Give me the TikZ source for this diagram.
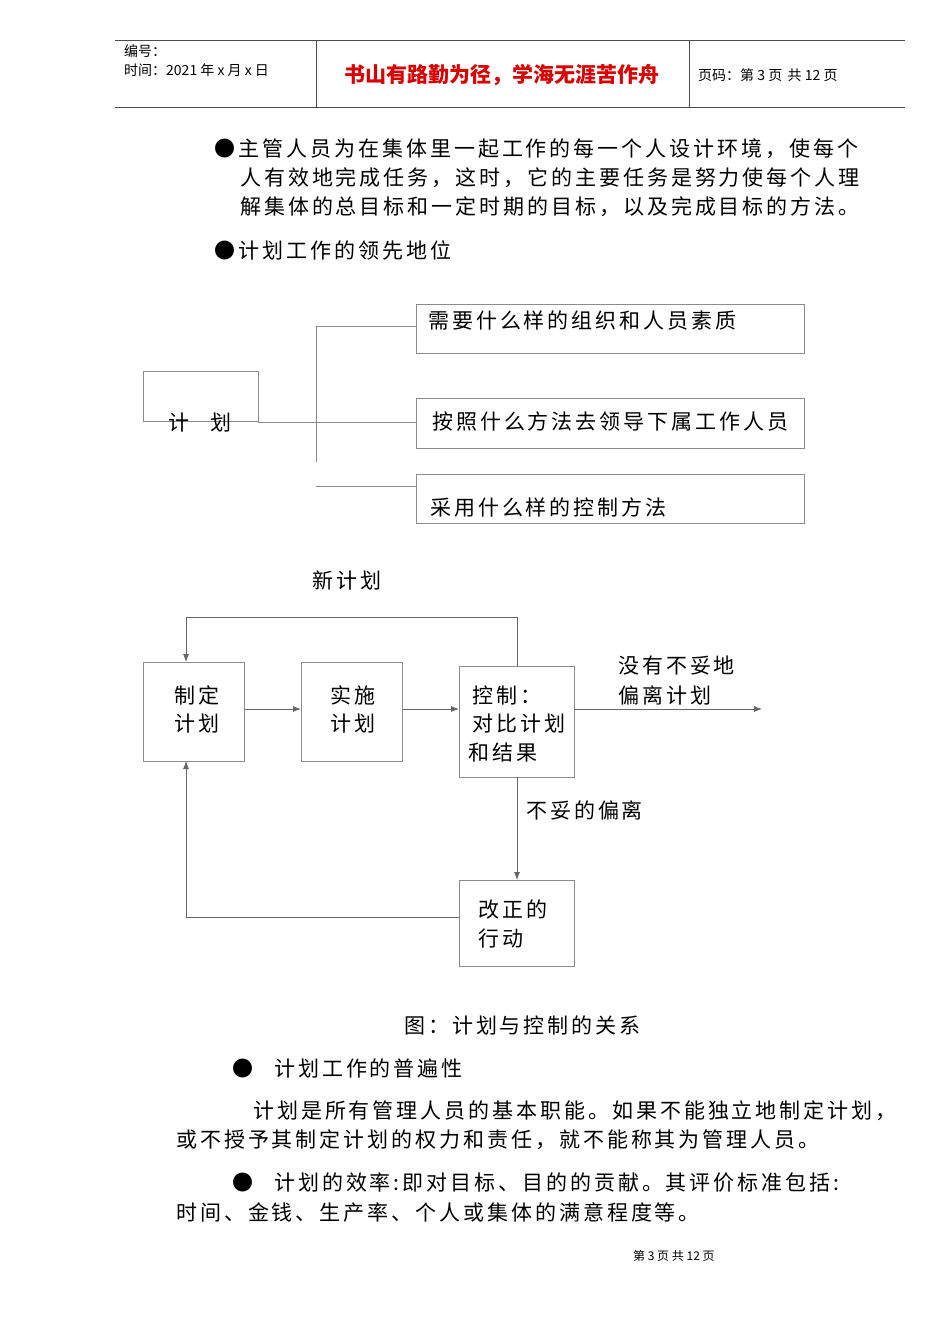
\documentclass[tikz,border=0pt]{standalone}
\usepackage{fontspec}
\usetikzlibrary{arrows.meta}
\setmainfont{Noto Sans CJK SC}
\newfontfamily\cjk[LetterSpace=14]{Noto Sans CJK SC}
\newfontfamily\hd{Noto Sans CJK SC}
\begin{document}
\begin{tikzpicture}[x=1pt,y=-1pt,
  ln/.style={draw=black!60,line width=0.8pt},
  bx/.style={draw=black!45,line width=0.8pt},
  t/.style={anchor=west,inner sep=0pt,font=\cjk\fontsize{21}{26}\selectfont},
  h/.style={anchor=west,inner sep=0pt,font=\hd\fontsize{14}{16}\selectfont},
  ar/.style={draw=black!60,line width=0.8pt,-{Latex[length=8pt,width=6pt]}}]
\useasboundingbox[fill=white] (0,0) rectangle (950,1344);
% header
\draw[ln,black!70] (115,40) -- (905,40) (115,107) -- (905,107) (316,40) -- (316,107) (689,40) -- (689,107);
\node[h] (h1) at (124,51) {编号：};
\node[h] (h2) at (124,70) {时间：2021 年 x 月 x 日};
\node[anchor=center,inner sep=0pt,text=red!85!black,font=\hd\bfseries\fontsize{21}{22}\selectfont] (h3) at (502,75) {书山有路勤为径，学海无涯苦作舟};
\node[h] (h4) at (698,75) {页码：第 3 页\, 共 12 页};
% bullets
\node[t] (b1) at (214,149) {●\,主管人员为在集体里一起工作的每一个人设计环境，使每个};
\node[t] (b2) at (240,178) {人有效地完成任务，这时，它的主要任务是努力使每个人理};
\node[t] (b3) at (240,207) {解集体的总目标和一定时期的目标，以及完成目标的方法。};
\node[t] (b4) at (214,250) {●\,计划工作的领先地位};
% tree
\draw[bx] (416,304) rectangle (804,353);
\draw[bx] (416,398) rectangle (804,448);
\draw[bx] (416,474) rectangle (804,523);
\node[t] (r1) at (428,321) {需要什么样的组织和人员素质};
\node[t] (r2) at (432,422) {按照什么方法去领导下属工作人员};
\node[t] (r3) at (430,508) {采用什么样的控制方法};
\draw[bx] (143,371) rectangle (258,421);
\node[t] (plan) at (168,423) {计\quad 划};
\coordinate (jt) at (316,326); \coordinate (jb) at (316,462);
\draw[ln,black!45] (258,422) -- (416,422) (jt) -- (jb) (jt) -- (416,326) (316,486) -- (416,486);
% flow
\node[t] (xin) at (312,580) {新计划};
\node[bx,minimum width=101pt,minimum height=99pt,anchor=north west] (z) at (143,662) {};
\node[bx,minimum width=101pt,minimum height=99pt,anchor=north west] (s) at (301,662) {};
\node[bx,minimum width=115pt,minimum height=111pt,anchor=north west] (k) at (459,666) {};
\node[bx,minimum width=115pt,minimum height=86pt,anchor=north west] (g) at (459,880) {};
\node[t] at (174,695) {制定};
\node[t] at (174,724) {计划};
\node[t] at (330,695) {实施};
\node[t] at (330,724) {计划};
\node[t] at (472,695) {控制：};
\node[t] at (472,724) {对比计划};
\node[t] at (468,752) {和结果};
\node[t] at (478,910) {改正的};
\node[t] at (478,939) {行动};
\coordinate (e) at (762,709);
\draw[ar] (z.east|-0,709) -- (s.west|-0,709);
\draw[ar] (s.east|-0,709) -- (k.west|-0,709);
\draw[ar] (k.east|-0,709) -- (e);
\draw[ar] (517,666) -- (517,617) -- (186,617) -- (186,662);
\draw[ar] (517,777) -- (517,880);
\draw[ar] (459,917) -- (186,917) -- (186,761);
\node[t] at (618,666) {没有不妥地};
\node[t] at (618,695) {偏离计划};
\node[t] at (526,810) {不妥的偏离};
\node[t] at (404,1025) {图：计划与控制的关系};
\node[t] at (232,1068) {●\quad 计划工作的普遍性};
\node[t] at (253,1111) {计划是所有管理人员的基本职能。如果不能独立地制定计划，};
\node[t] at (176,1140) {或不授予其制定计划的权力和责任，就不能称其为管理人员。};
\node[t] at (232,1183) {●\quad 计划的效率:即对目标、目的的贡献。其评价标准包括:};
\node[t] at (176,1212) {时间、金钱、生产率、个人或集体的满意程度等。};
\node[anchor=west,inner sep=0pt,font=\hd\fontsize{12}{14}\selectfont] at (633,1256) {第\ 3\ 页\ 共\ 12\ 页};
\end{tikzpicture}
\end{document}
